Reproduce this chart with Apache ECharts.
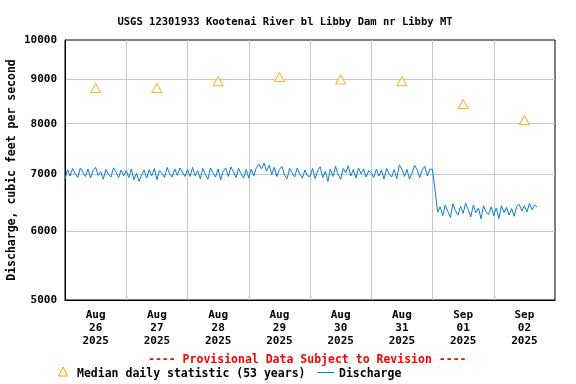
<!DOCTYPE html>
<html><head><meta charset="utf-8">
<script src="https://cdn.jsdelivr.net/npm/echarts@6/dist/echarts.min.js"></script>
<style>html,body{margin:0;padding:0;background:#fff}#c{width:576px;height:384px}</style>
</head><body><div id="c"></div>
<script>
// ---- data ----
var xMonths = ['Aug','Aug','Aug','Aug','Aug','Aug','Sep','Sep'];
var xDays = ['26','27','28','29','30','31','01','02'];
var xYears = ['2025','2025','2025','2025','2025','2025','2025','2025'];
var yTicks = [5000, 6000, 7000, 8000, 9000, 10000];
// median daily statistic at noon of each day
var medianValues = [8800, 8800, 8960, 9060, 9000, 8960, 8430, 8080];
// hourly discharge (cfs), starting Aug 26 00:00
var dischargeAug26 = [6900,7080,6960,7100,7000,6930,7110,7030,6950,7090,6920,7060,7120,6970,7040,6900,7080,6990,6940,7110,7030,6930,7070,6960];
var dischargeAug27 = [7060,6930,7090,6890,7010,6860,6980,7070,6920,7080,6960,7100,6890,7060,7010,6930,7120,7000,6940,7090,6970,7110,7030,6950];
var dischargeAug28 = [7080,6950,7120,6960,7060,6910,7100,6990,6900,7110,7020,6940,7090,6890,7050,7110,6950,7130,7040,6930,7100,7000,6920,7080];
var dischargeAug29 = [6920,7090,6960,7120,7180,7090,7200,7050,7160,6990,7120,6950,7080,7140,6980,6910,7100,7020,6940,7110,6990,6920,7070,6960];
var dischargeAug30 = [6950,7100,6910,7060,7130,6930,7050,6860,7090,6950,7140,6990,6900,7100,7020,7150,6960,7080,6920,7110,7000,7090,6940,7060];
var dischargeAug31 = [7010,6930,7090,6960,7070,6900,7100,7000,6940,7080,6910,7170,7090,6950,7080,6900,7020,7160,7070,6930,7080,7140,6960,7090];
var dischargeSep01 = [7080,6700,6320,6410,6260,6440,6330,6230,6460,6340,6270,6420,6300,6470,6360,6240,6440,6310,6390,6210,6430,6320,6280,6410];
var dischargeSep02 = [6260,6390,6210,6430,6310,6400,6270,6380,6250,6420,6450,6340,6430,6320,6470,6360,6440,6410];

var discharge = [].concat(dischargeAug26, dischargeAug27, dischargeAug28, dischargeAug29, dischargeAug30, dischargeAug31, dischargeSep01, dischargeSep02);
var lineData = discharge.map(function(v, i){ return [i, Math.log10(v)]; });
var medData = medianValues.map(function(v, i){ return [i*24+12, Math.log10(v)]; });
var labelPos = xDays.map(function(d, i){ return i*24+12; });

var FONT = 'DejaVu Sans Mono';
var BLUE = '#0a7fcc', ORANGE = '#f5a000';
var chart = echarts.init(document.getElementById('c'));
chart.setOption({
  animation: false,
  backgroundColor: '#fff',
  title: {
    text: 'USGS 12301933 Kootenai River bl Libby Dam nr Libby MT',
    left: 280, top: 12, textAlign: 'center',
    textStyle: {fontFamily: FONT, fontWeight: 'bold', fontSize: 10.5, color: '#000'}
  },
  grid: {left: 65, right: 21, top: 40, bottom: 84, show: true, borderColor: '#000', borderWidth: 1,
         containLabel: false, outerBoundsMode: 'none'},
  xAxis: {
    type: 'value', min: 0, max: 192, interval: 24,
    axisLine: {show: true, lineStyle: {color: '#000', width: 1}},
    axisTick: {show: false},
    splitLine: {show: true, showMinLine: false, showMaxLine: false, lineStyle: {color: '#c8c8c8', width: 1}},
    axisLabel: {
      customValues: labelPos, margin: 9,
      fontFamily: FONT, fontWeight: 'bold', fontSize: 11, color: '#000', lineHeight: 13,
      formatter: function(v){ var i = Math.round((v-12)/24); return xMonths[i] + '\n' + xDays[i] + '\n' + xYears[i]; }
    }
  },
  yAxis: {
    type: 'value', min: Math.log10(5000), max: 4,
    name: 'Discharge, cubic feet per second', nameLocation: 'middle', nameGap: 47, nameMoveOverlap: false,
    nameTextStyle: {fontFamily: FONT, fontWeight: 'bold', fontSize: 11.5, color: '#000'},
    axisLine: {show: true, lineStyle: {color: '#000', width: 1}},
    axisTick: {show: false, customValues: yTicks.map(function(v){return Math.log10(v);})},
    splitLine: {show: true, showMinLine: false, showMaxLine: false, lineStyle: {color: '#c8c8c8', width: 1}},
    axisLabel: {
      customValues: yTicks.map(function(v){return Math.log10(v);}), margin: 8,
      fontFamily: FONT, fontWeight: 'bold', fontSize: 11, color: '#000',
      formatter: function(v){ return String(Math.round(Math.pow(10, v)/100)*100); }
    }
  },
  graphic: [
    {type: 'text', left: 148, top: 354,
     style: {text: '---- Provisional Data Subject to Revision ----', fontFamily: FONT, fontWeight: 'bold', fontSize: 11.5, fill: '#ff0000'}},
    {type: 'polygon', shape: {points: [[63, 367], [58.5, 376], [67.5, 376]]},
     style: {fill: 'none', stroke: ORANGE, lineWidth: 1}},
    {type: 'text', left: 77, top: 368,
     style: {text: 'Median daily statistic (53 years)', fontFamily: FONT, fontWeight: 'bold', fontSize: 11.5, fill: '#000'}},
    {type: 'line', shape: {x1: 317, y1: 372.5, x2: 334, y2: 372.5}, style: {stroke: BLUE, lineWidth: 1}},
    {type: 'text', left: 339, top: 368,
     style: {text: 'Discharge', fontFamily: FONT, fontWeight: 'bold', fontSize: 11.5, fill: '#000'}}
  ],
  series: [
    {
      name: 'Discharge', type: 'line', data: lineData, showSymbol: false, symbol: 'none',
      lineStyle: {color: BLUE, width: 1}, itemStyle: {color: BLUE}, z: 3
    },
    {
      name: 'Median daily statistic (53 years)', type: 'scatter', data: medData,
      symbol: 'triangle', symbolSize: [10, 9],
      itemStyle: {color: '#ffffff', borderColor: ORANGE, borderWidth: 1}, z: 4
    }
  ]
});
</script></body></html>
